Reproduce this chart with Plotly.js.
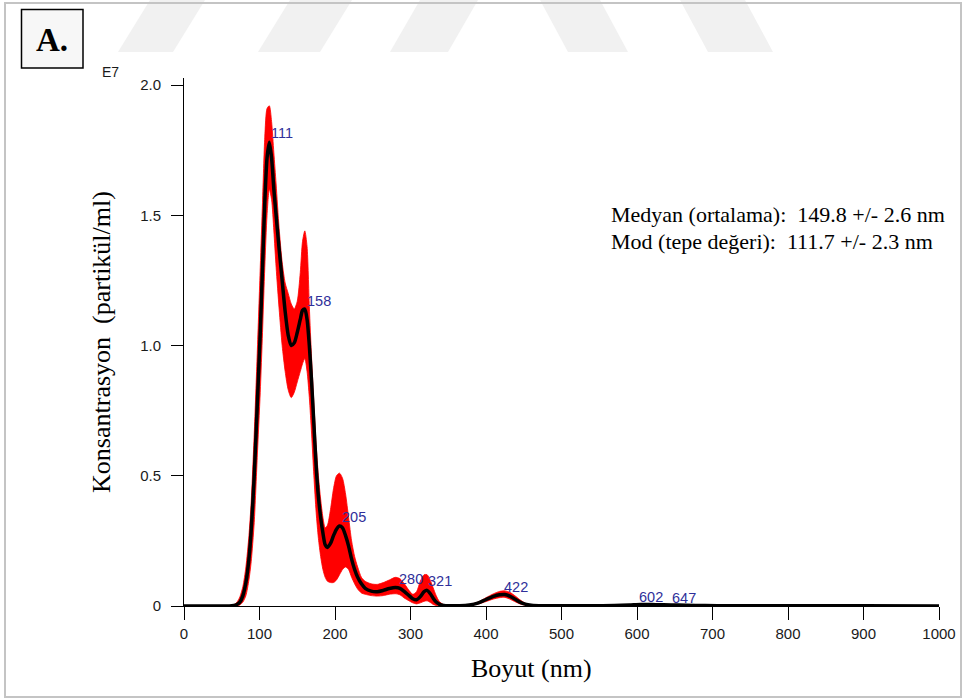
<!DOCTYPE html>
<html>
<head>
<meta charset="utf-8">
<script src="https://cdn.plot.ly/plotly-3.0.1.min.js"></script>
<style>html,body{margin:0;padding:0;background:#fff;}#chart{width:964px;height:700px;}</style>
</head>
<body>
<div id="chart"></div>
<script>
// Particle size (nm)
const sizes = [0,50,60,66,70,74,78,82,86,89,93,97,101,104,107,110,113,116,119,122,126,130,134,138,142,146,150,154,157,160,163,166,169,172,175,178,181,184,187,190,194,198,202,206,210,214,218,222,226,230,235,240,248,256,264,272,280,286,292,298,303,308,313,318,322,326,330,334,338,344,352,365,378,390,400,410,418,425,432,438,445,452,460,475,500,540,570,590,605,625,645,665,690,720,800,900,1000];
// Mean concentration (x 1E7 particles/ml)
const meanConc = [0,0,0,0.002,0.006,0.015,0.04,0.09,0.18,0.29,0.5,0.77,1.05,1.3,1.55,1.72,1.78,1.72,1.6,1.5,1.37,1.25,1.13,1.04,1.0,1.01,1.05,1.1,1.135,1.14,1.1,1.0,0.86,0.7,0.54,0.42,0.34,0.28,0.235,0.225,0.24,0.27,0.295,0.307,0.3,0.27,0.23,0.18,0.14,0.11,0.085,0.068,0.057,0.055,0.06,0.067,0.071,0.068,0.055,0.04,0.028,0.024,0.036,0.055,0.06,0.048,0.03,0.015,0.007,0.002,0.001,0.001,0.004,0.012,0.025,0.037,0.043,0.044,0.037,0.027,0.015,0.007,0.003,0.001,0.001,0.001,0.002,0.004,0.006,0.005,0.004,0.003,0.0015,0.001,0.0007,0.0005,0.0003];
// Upper error band (x 1E7)
const upperConc = [0,0,0,0.005,0.014,0.035,0.075,0.15,0.27,0.4,0.66,0.97,1.3,1.55,1.8,1.91,1.92,1.86,1.74,1.62,1.45,1.32,1.24,1.2,1.16,1.14,1.17,1.28,1.4,1.44,1.38,1.15,0.95,0.78,0.62,0.5,0.41,0.34,0.3,0.31,0.37,0.45,0.5,0.51,0.49,0.43,0.34,0.25,0.19,0.15,0.11,0.095,0.085,0.083,0.09,0.1,0.11,0.105,0.085,0.06,0.045,0.055,0.095,0.12,0.12,0.1,0.07,0.04,0.018,0.005,0.001,0.002,0.006,0.016,0.032,0.047,0.056,0.058,0.052,0.04,0.024,0.011,0.004,0.001,0.001,0.001,0.002,0.004,0.006,0.005,0.004,0.003,0.0015,0.001,0.0007,0.0005,0.0003];
// Lower error band (x 1E7)
const lowerConc = [0,0,0,0,0.001,0.004,0.015,0.04,0.1,0.17,0.32,0.57,0.82,1.05,1.3,1.5,1.6,1.56,1.44,1.3,1.14,1.0,0.9,0.83,0.8,0.82,0.86,0.9,0.93,0.95,0.9,0.8,0.66,0.5,0.36,0.26,0.19,0.14,0.11,0.095,0.09,0.09,0.1,0.12,0.14,0.15,0.14,0.11,0.085,0.065,0.05,0.045,0.04,0.038,0.04,0.045,0.047,0.043,0.03,0.02,0.012,0.008,0.012,0.018,0.02,0.014,0.006,0.002,0,0,0,0,0.002,0.008,0.017,0.027,0.032,0.033,0.026,0.017,0.008,0.003,0.001,0.001,0.001,0.001,0.002,0.004,0.006,0.005,0.004,0.003,0.0015,0.001,0.0007,0.0005,0.0003];
// Peak labels
const peakLabels = ['111','158','205','280','321','422','602','647'];
const peakX = [112,160,206,282,321,421,600,644];
const peakLabelY = [1.816,1.172,0.343,0.104,0.096,0.073,0.034,0.030];
// Axis ticks
const xTicks = [0,100,200,300,400,500,600,700,800,900,1000];
const yTickVals = [0,0.5,1.0,1.5,2.0];
const yTickText = ['0','0.5','1.0','1.5','2.0'];
// Texts
const statLines = ['Medyan (ortalama):  149.8 +/- 2.6 nm','Mod (tepe değeri):  111.7 +/- 2.3 nm'];
const xTitle = 'Boyut (nm)';
const yTitle = 'Konsantrasyon  (partikül/ml)';
const panelLabel = 'A.';
const expLabel = 'E7';

// layout geometry (pixels)
const W = 964, H = 700, L = 184, R = 939, T = 78, B = 606;
const px = x => (x - L) / (R - L);
const py = y => (B - y) / (B - T);

const traces = [
  {x: sizes, y: upperConc, mode: 'lines', line: {color: '#ff0000', width: 0.8, shape: 'spline', smoothing: 0.7}, hoverinfo: 'skip', showlegend: false},
  {x: sizes, y: lowerConc, mode: 'lines', fill: 'tonexty', fillcolor: '#ff0000', line: {color: '#ff0000', width: 0.8, shape: 'spline', smoothing: 0.7}, hoverinfo: 'skip', showlegend: false},
  {x: sizes, y: meanConc, mode: 'lines', line: {color: '#000000', width: 3.5, shape: 'spline', smoothing: 0.7}, showlegend: false}
];

const annotations = [];
peakLabels.forEach((t, i) => annotations.push({
  x: peakX[i], y: peakLabelY[i], xref: 'x', yref: 'y', text: t, showarrow: false,
  xanchor: 'left', yanchor: 'middle', font: {family: 'Liberation Sans, Arial, sans-serif', size: 14.5, color: '#2f2f9a'}
}));
statLines.forEach((t, i) => annotations.push({
  x: px(609), y: py(214 + i * 27), xref: 'paper', yref: 'paper', text: t, showarrow: false,
  xanchor: 'left', yanchor: 'middle', font: {family: 'Liberation Serif, Times New Roman, serif', size: 22, color: '#000'}
}));
annotations.push({x: px(110), y: py(72), xref: 'paper', yref: 'paper', text: expLabel, showarrow: false,
  xanchor: 'center', yanchor: 'middle', font: {family: 'Liberation Sans, Arial, sans-serif', size: 14, color: '#1a1a1a'}});
annotations.push({x: px(52), y: py(40), xref: 'paper', yref: 'paper', text: '<b>' + panelLabel + '</b>', showarrow: false,
  xanchor: 'center', yanchor: 'middle', font: {family: 'Liberation Serif, Times New Roman, serif', size: 33, color: '#000'}});
// x-axis title placed where the reference draws it (left of the plot centre)
annotations.push({x: px(531), y: py(668), xref: 'paper', yref: 'paper', text: xTitle, showarrow: false,
  xanchor: 'center', yanchor: 'middle', font: {family: 'Liberation Serif, Times New Roman, serif', size: 26, color: '#000'}});

// watermark stripes (decorative) and frames
const stripeColor = '#f1f1f1';
const stripes = [[150,205,118,173],[290,352,258,320],[420,478,390,448],[540,600,568,628],[680,745,708,773]];
const shapes = stripes.map(s => ({
  type: 'path', xref: 'paper', yref: 'paper', layer: 'below', line: {width: 0}, fillcolor: stripeColor,
  path: `M${px(s[0])},${py(0)} L${px(s[1])},${py(0)} L${px(s[3])},${py(52)} L${px(s[2])},${py(52)} Z`
}));
shapes.push({type: 'rect', xref: 'paper', yref: 'paper', x0: px(5), x1: px(961), y0: py(3), y1: py(697),
  line: {color: '#c4c4c4', width: 2}, fillcolor: 'rgba(0,0,0,0)', layer: 'below'});
shapes.push({type: 'rect', xref: 'paper', yref: 'paper', x0: px(21.5), x1: px(83), y0: py(9.5), y1: py(68),
  line: {color: '#000', width: 1.5}, fillcolor: '#f7f7f7', layer: 'below'});

const layout = {
  width: W, height: H,
  margin: {l: L, r: W - R, t: T, b: H - B, pad: 0},
  paper_bgcolor: 'rgba(0,0,0,0)', plot_bgcolor: 'rgba(0,0,0,0)',
  showlegend: false,
  xaxis: {
    range: [0, 1000], tickvals: xTicks, ticktext: xTicks.map(String),
    showline: true, linecolor: '#000', linewidth: 1, ticks: 'outside', ticklen: 13, tickcolor: '#000', tickwidth: 1,
    showgrid: false, zeroline: false, mirror: false, ticklabelstandoff: 1,
    tickfont: {family: 'Liberation Sans, Arial, sans-serif', size: 15, color: '#1a1a1a'},
    title: {text: ''}
  },
  yaxis: {
    range: [0, (B - T) / 260.5], tickvals: yTickVals, ticktext: yTickText,
    showline: true, linecolor: '#000', linewidth: 1, ticks: 'outside', ticklen: 12, tickcolor: '#000', tickwidth: 1,
    showgrid: false, zeroline: false, mirror: false, ticklabelstandoff: 7,
    tickfont: {family: 'Liberation Sans, Arial, sans-serif', size: 15, color: '#1a1a1a'},
    title: {text: yTitle, font: {family: 'Liberation Serif, Times New Roman, serif', size: 26, color: '#000'}, standoff: 22}
  },
  annotations: annotations,
  shapes: shapes
};

Plotly.newPlot('chart', traces, layout, {staticPlot: true, displayModeBar: false});
</script>
</body>
</html>
